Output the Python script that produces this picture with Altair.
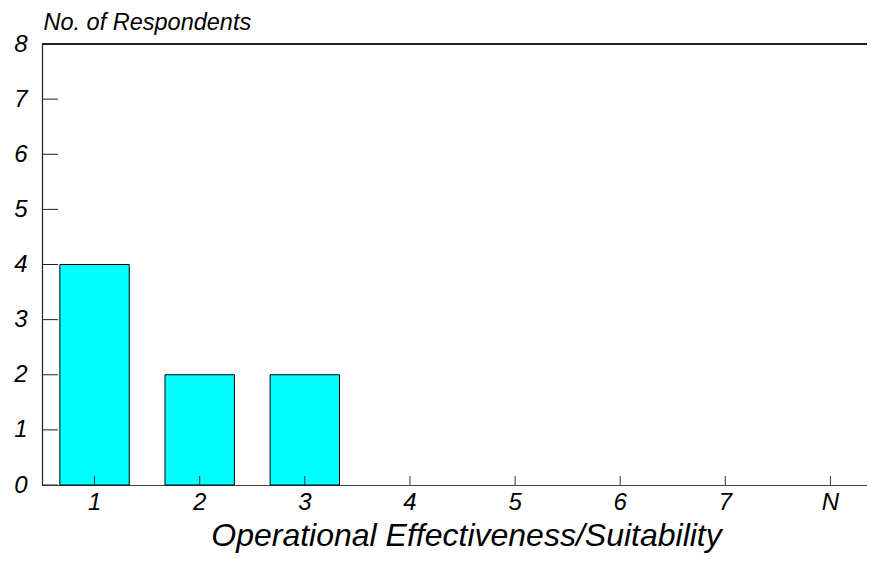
import altair as alt
import pandas as pd

categories = ["1", "2", "3", "4", "5", "6", "7", "N"]
respondents = [4, 2, 2, 0, 0, 0, 0, 0]
y_ticks = [0, 1, 2, 3, 4, 5, 6, 7, 8]

W = 825
H = 441
FONT = "Liberation Sans"

bars_df = pd.DataFrame({"cat": categories, "n": respondents})
yt_df = pd.DataFrame({"v": y_ticks})
xt_df = pd.DataFrame({"cat": categories})

xscale = alt.Scale(domain=categories, range=[0, 841], paddingInner=0.34, paddingOuter=0.17)
yscale = alt.Scale(domain=[0, 8], nice=False, zero=True)

bars = alt.Chart(bars_df).transform_filter("datum.n > 0").mark_bar(
    fill="#00FFFF", stroke="black", strokeWidth=1
).encode(
    x=alt.X("cat:N", scale=xscale, sort=categories,
            axis=alt.Axis(title="Operational Effectiveness/Suitability", labelAngle=0,
                          ticks=False, domain=True, domainColor="#444444", domainWidth=1.2,
                          grid=False, labelFontSize=24, labelFontStyle="italic",
                          labelFont=FONT, labelColor="black", labelPadding=5,
                          titleFont=FONT, titleFontSize=32, titleFontStyle="italic",
                          titleFontWeight="normal", titleColor="black",
                          titleX=424, titleY=60, titleBaseline="alphabetic",
                          titleAlign="center")),
    y=alt.Y("n:Q", scale=yscale,
            axis=alt.Axis(values=y_ticks, format="d", title="No. of Respondents", ticks=False,
                          domain=True, domainColor="#222222", domainWidth=1.2, grid=False,
                          labelFontSize=24, labelFontStyle="italic", labelFont=FONT,
                          labelColor="black", labelPadding=15,
                          titleFont=FONT, titleFontSize=23.5, titleFontStyle="italic",
                          titleFontWeight="normal", titleColor="black", titleAngle=0,
                          titleAlign="left", titleBaseline="alphabetic",
                          titleX=1, titleY=-15)),
)

yticks = alt.Chart(yt_df).mark_rule(color="#222222", strokeWidth=1).encode(
    y=alt.Y("v:Q", scale=yscale),
    x=alt.value(0),
    x2=alt.value(16),
)

xticks = alt.Chart(xt_df).mark_rule(color="#333333", strokeWidth=1).encode(
    x=alt.X("cat:N", scale=xscale, sort=categories),
    y=alt.value(H),
    y2=alt.value(H - 9),
)

top_line = alt.Chart(pd.DataFrame({"k": [0]})).mark_rule(color="#222222", strokeWidth=2).encode(
    y=alt.value(0),
    x=alt.value(0),
    x2=alt.value(W + 20),
)

chart = alt.layer(bars, yticks, xticks, top_line).properties(
    width=W,
    height=H,
    autosize=alt.AutoSizeParams(type="none"),
    padding={"left": 34, "top": 36, "right": 0, "bottom": 68},
).configure_view(stroke=None)

chart.save("out.html", embed_options={"renderer": "svg", "actions": False})
